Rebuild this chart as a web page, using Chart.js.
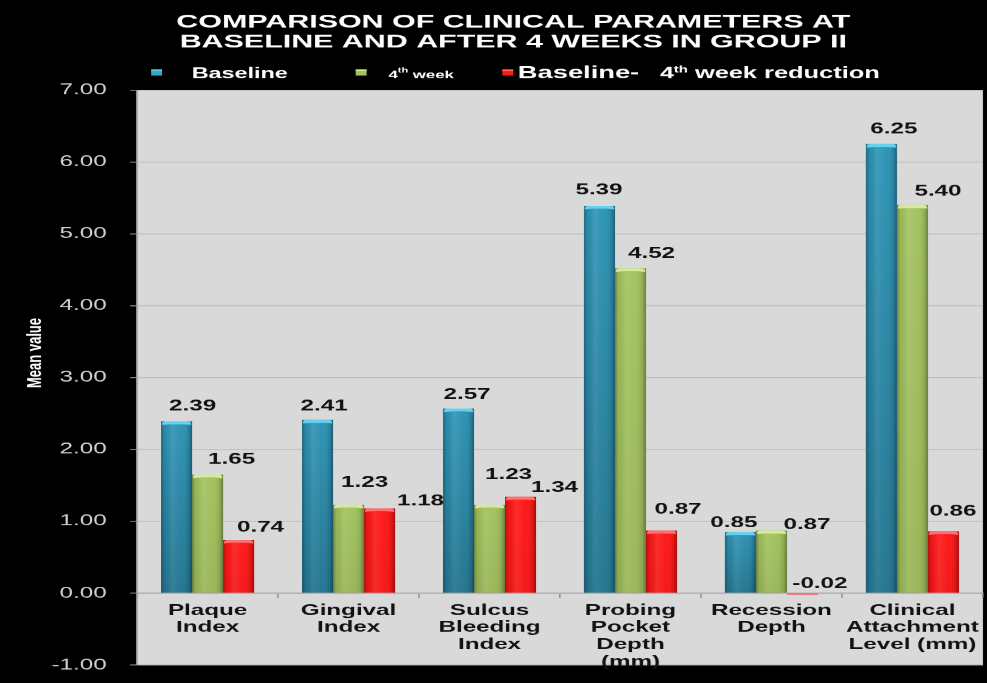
<!DOCTYPE html>
<html>
<head>
<meta charset="utf-8">
<title>Clinical parameters – Group II</title>
<script src="https://cdn.jsdelivr.net/npm/chart.js@4.4.1/dist/chart.umd.min.js"></script>
<style>
  html, body { margin: 0; padding: 0; background: #000; overflow: hidden; width: 987px; height: 683px; }
  /* the chart is laid out on a narrow canvas and widened horizontally */
  #chart { display: block; transform-origin: 0 0; transform: scaleX(1.559242); }
</style>
</head>
<body>
<canvas id="chart" width="633" height="683"></canvas>
<script>
// ---- data ----
const categories = [
  ['Plaque', 'Index'],
  ['Gingival', 'Index'],
  ['Sulcus', 'Bleeding', 'Index'],
  ['Probing', 'Pocket', 'Depth', '(mm)'],
  ['Recession', 'Depth'],
  ['Clinical', 'Attachment', 'Level (mm)']
];
const seriesNames = ['Baseline', '4th week', 'Baseline- 4th week reduction'];
const baseline  = [2.39, 2.41, 2.57, 5.39, 0.85, 6.25];
const week4     = [1.65, 1.23, 1.23, 4.52, 0.87, 5.40];
const reduction = [0.74, 1.18, 1.34, 0.87, -0.02, 0.86];
const yMin = -1, yMax = 7, yStep = 1;

// ---- styling ----
const STRETCH = 987 / 633;
const FONT = '"Liberation Sans", Arial, Helvetica, sans-serif';
Chart.defaults.font.family = FONT;

const tones = [
  { fill: '#2c93b5', cap: '#63d2ee', fade: 0.20, key: '#35a7cc' },
  { fill: '#a2c25d', cap: '#d3ec98', fade: 0.06, key: '#a2c25d' },
  { fill: '#ff1616', cap: '#ff7070', fade: 0.04, key: '#ff1a1a' }
];

// value label placement per bar: [dx, dy above bar top]
const labelPlacement = [
  [[10.3, 15], [4.2, 14], [5.5, 14], [-0.3, 16], [-4.2, 9], [8.0, 15]],
  [[15.4, 15], [10.3, 22], [12.2, 30], [13.5, 15], [22.8, 6], [16.4, 14]],
  [[14.1, 12.5], [26.3, 7], [21.8, 9], [10.6, 21], [11.2, 10], [6.1, 20]]
];

// grey plotting area
const plotBackground = {
  id: 'plotBackground',
  beforeDraw(chart) {
    const { ctx, chartArea: a } = chart;
    ctx.save();
    ctx.fillStyle = '#000';
    ctx.fillRect(0, 0, chart.width, chart.height);
    ctx.fillStyle = '#d9d9d9';
    ctx.fillRect(a.left, a.top, a.right - a.left, a.bottom - a.top);
    ctx.restore();
  }
};

// cylinder-like shading on each bar
function shadeBar(ctx, el, tone) {
  const { x, y, base, width } = el.getProps(['x', 'y', 'base', 'width'], true);
  const left = x - width / 2, right = x + width / 2;
  const top = Math.min(y, base), bottom = Math.max(y, base);
  const h = bottom - top;
  if (h < 3) return;
  ctx.save();
  const g = ctx.createLinearGradient(left, 0, right, 0);
  g.addColorStop(0, 'rgba(0,0,0,0.32)');
  g.addColorStop(0.10, 'rgba(0,0,0,0.06)');
  g.addColorStop(0.35, 'rgba(255,255,255,0.10)');
  g.addColorStop(0.65, 'rgba(255,255,255,0.02)');
  g.addColorStop(0.90, 'rgba(0,0,0,0.12)');
  g.addColorStop(1, 'rgba(0,0,0,0.36)');
  ctx.fillStyle = g;
  ctx.fillRect(left, top, width, h);
  const v = ctx.createLinearGradient(0, top, 0, bottom);
  v.addColorStop(0, 'rgba(0,0,0,0)');
  v.addColorStop(1, 'rgba(0,0,0,' + tone.fade + ')');
  ctx.fillStyle = v;
  ctx.fillRect(left, top, width, h);
  const capH = Math.min(3.5, h / 2);
  ctx.beginPath();
  ctx.moveTo(left + 0.5, top + capH);
  ctx.quadraticCurveTo(left + 0.5, top, left + 3, top);
  ctx.lineTo(right - 3, top);
  ctx.quadraticCurveTo(right - 0.5, top, right - 0.5, top + capH);
  ctx.quadraticCurveTo(x, top + capH - 1.5, left + 0.5, top + capH);
  ctx.closePath();
  ctx.fillStyle = tone.cap;
  ctx.fill();
  ctx.restore();
}

const barShading = {
  id: 'barShading',
  afterDatasetDraw(chart, args) {
    const ctx = chart.ctx;
    const a = chart.chartArea;
    ctx.save();
    ctx.beginPath();
    ctx.rect(a.left, a.top, a.right - a.left, a.bottom - a.top);
    ctx.clip();
    args.meta.data.forEach(el => shadeBar(ctx, el, tones[args.index]));
    ctx.restore();
  }
};

// value labels above the bars
const valueLabels = {
  id: 'valueLabels',
  afterDatasetsDraw(chart) {
    const ctx = chart.ctx;
    ctx.save();
    ctx.font = 'bold 15.5px ' + FONT;
    ctx.fillStyle = '#111';
    ctx.textAlign = 'center';
    ctx.textBaseline = 'middle';
    chart.data.datasets.forEach((ds, di) => {
      chart.getDatasetMeta(di).data.forEach((el, i) => {
        const { x, y, base } = el.getProps(['x', 'y', 'base'], true);
        const [dx, dy] = labelPlacement[di][i];
        ctx.fillText(ds.data[i].toFixed(2), x + dx, Math.min(y, base) - dy);
      });
    });
    ctx.restore();
  }
};

// legend row with superscript ordinals
const legendRow = {
  id: 'legendRow',
  afterDraw(chart) {
    const ctx = chart.ctx;
    const items = [
      { tone: tones[0], gap: 19, runs: [{ t: 'Baseline', s: 15 }] },
      { tone: tones[1], gap: 14, runs: [{ t: '4', s: 10.8 }, { t: 'th', s: 7, sup: true }, { t: ' week', s: 10.8 }] },
      { tone: tones[2], gap: 3, runs: [{ t: 'Baseline-', s: 17.5 }, { t: '   4', s: 16 }, { t: 'th', s: 9.5, sup: true }, { t: ' week reduction', s: 16.3 }] }
    ];
    const after = [43.5, 31];
    const baselineY = 78;
    let x = chart.chartArea.left + 9;
    ctx.save();
    ctx.textBaseline = 'alphabetic';
    ctx.textAlign = 'left';
    items.forEach((it, k) => {
      ctx.fillStyle = it.tone.key;
      ctx.fillRect(x, 69.5, 7, 6);
      ctx.fillStyle = it.tone.cap;
      ctx.fillRect(x, 69.5, 7, 1.5);
      x += 7 + it.gap;
      it.runs.forEach(r => {
        ctx.font = 'bold ' + r.s + 'px ' + FONT;
        ctx.fillStyle = '#fff';
        ctx.fillText(r.t, x, r.sup ? baselineY - 5.5 : baselineY);
        x += ctx.measureText(r.t).width;
      });
      if (k < after.length) x += after[k];
    });
    ctx.restore();
  }
};

// rotated value-axis caption
const axisCaption = {
  id: 'axisCaption',
  afterDraw(chart) {
    const ctx = chart.ctx;
    ctx.save();
    ctx.translate(22.4, 353);
    ctx.rotate(-Math.PI / 2);
    ctx.font = 'bold 13px ' + FONT;
    ctx.fillStyle = '#fff';
    ctx.textAlign = 'center';
    ctx.textBaseline = 'middle';
    ctx.fillText('Mean value', 0, 0);
    ctx.restore();
  }
};

new Chart(document.getElementById('chart'), {
  type: 'bar',
  data: {
    labels: categories,
    datasets: [
      { label: seriesNames[0], data: baseline,  backgroundColor: tones[0].fill },
      { label: seriesNames[1], data: week4,     backgroundColor: tones[1].fill },
      { label: seriesNames[2], data: reduction, backgroundColor: tones[2].fill }
    ]
  },
  options: {
    responsive: false,
    animation: false,
    devicePixelRatio: STRETCH,
    layout: { padding: { left: 28, right: 2.6, top: 4, bottom: 18 } },
    datasets: { bar: { categoryPercentage: 0.66, barPercentage: 1.0 } },
    plugins: {
      legend: { display: false },
      tooltip: { enabled: false },
      title: {
        display: true,
        text: ['COMPARISON OF CLINICAL PARAMETERS AT', 'BASELINE AND AFTER 4 WEEKS IN GROUP II'],
        color: '#fff',
        font: { size: 19.5, weight: 'bold', lineHeight: 1.03 },
        padding: { top: 8, bottom: 38 }
      }
    },
    scales: {
      x: {
        position: { y: 0 },
        grid: { offset: true, drawOnChartArea: false, drawTicks: true, tickLength: 4, color: '#8e8e8e' },
        border: { color: '#a3a3a3' },
        ticks: {
          color: '#111',
          font: { size: 15.5, weight: 'bold', lineHeight: 1.1 },
          padding: 5,
          maxRotation: 0,
          autoSkip: false
        }
      },
      y: {
        min: yMin,
        max: yMax,
        ticks: {
          stepSize: yStep,
          callback: v => v.toFixed(2),
          color: '#d4d4d4',
          font: { size: 15.5 },
          padding: 15
        },
        grid: { color: '#bdbdbd', tickColor: '#8c8c8c', tickLength: 4.5 },
        border: { color: '#9a9a9a' },
        afterFit(scale) {
          scale.width = 59.9;
          scale.paddingTop = 0;
          scale.paddingBottom = 0;
        }
      }
    }
  },
  plugins: [plotBackground, barShading, valueLabels, legendRow, axisCaption]
});
</script>
</body>
</html>
